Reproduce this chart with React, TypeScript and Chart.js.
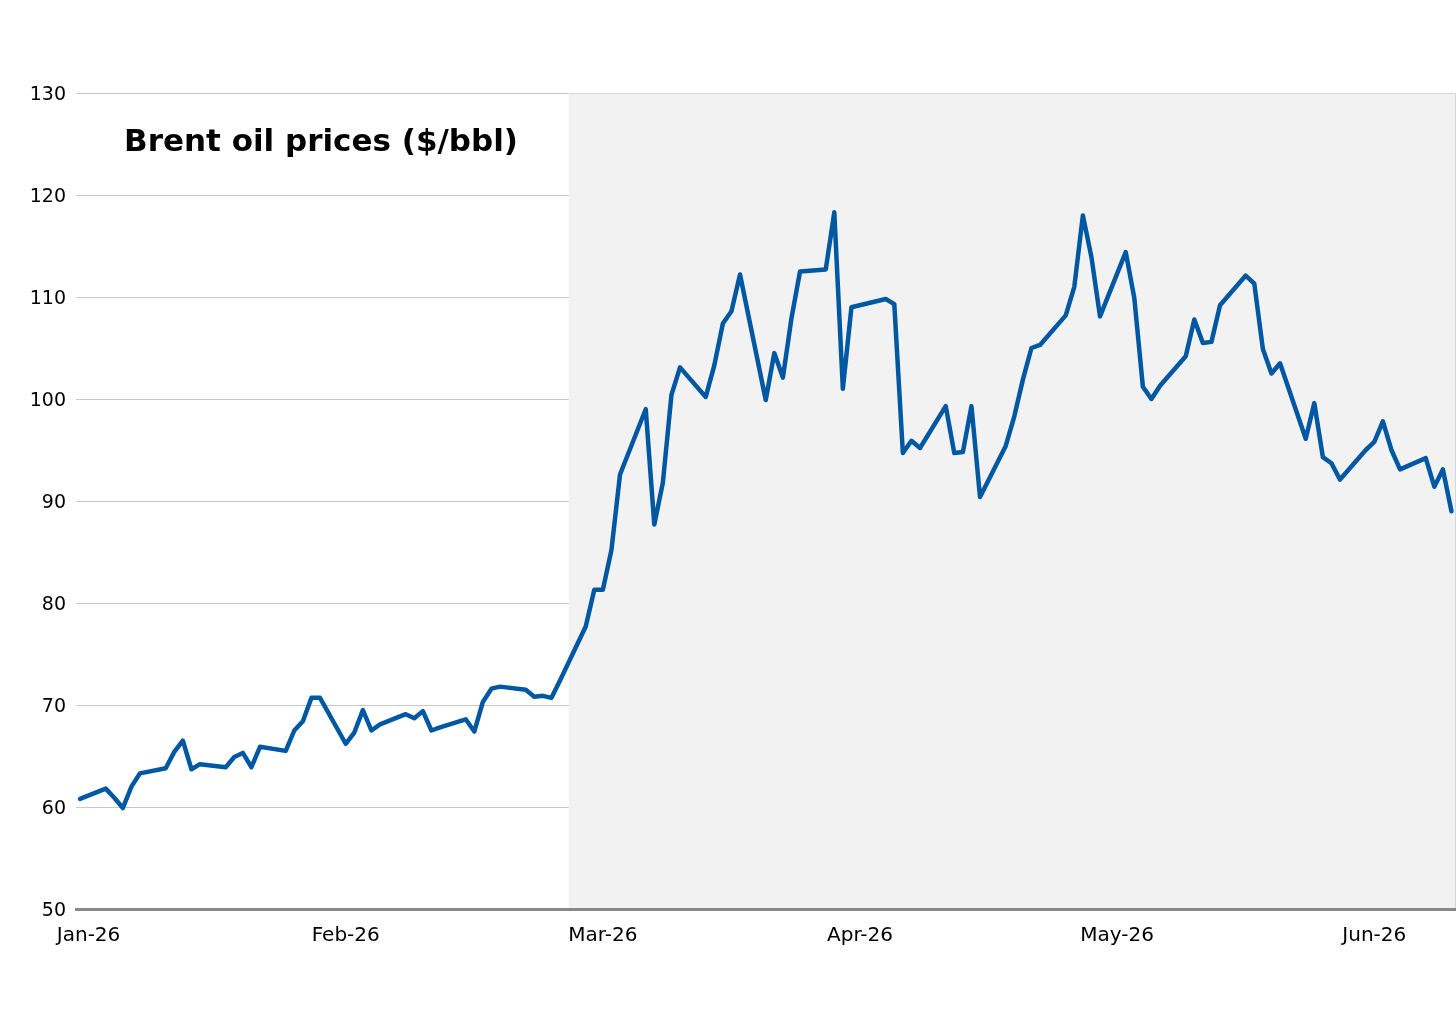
import React, { useEffect, useRef } from "react";
import { Chart, registerables } from "chart.js";

Chart.register(...registerables);

// ---- Data ----
const dates: string[] = [
  "2026-01-02", "2026-01-05", "2026-01-06", "2026-01-07", "2026-01-08", "2026-01-09",
  "2026-01-12", "2026-01-13", "2026-01-14", "2026-01-15", "2026-01-16",
  "2026-01-19", "2026-01-20", "2026-01-21", "2026-01-22", "2026-01-23",
  "2026-01-26", "2026-01-27", "2026-01-28", "2026-01-29", "2026-01-30",
  "2026-02-02", "2026-02-03", "2026-02-04", "2026-02-05", "2026-02-06",
  "2026-02-09", "2026-02-10", "2026-02-11", "2026-02-12", "2026-02-13",
  "2026-02-16", "2026-02-17", "2026-02-18", "2026-02-19", "2026-02-20",
  "2026-02-23", "2026-02-24", "2026-02-25", "2026-02-26", "2026-02-27",
  "2026-03-02", "2026-03-03", "2026-03-04", "2026-03-05", "2026-03-06",
  "2026-03-09", "2026-03-10", "2026-03-11", "2026-03-12", "2026-03-13",
  "2026-03-16", "2026-03-17", "2026-03-18", "2026-03-19", "2026-03-20",
  "2026-03-23", "2026-03-24", "2026-03-25", "2026-03-26", "2026-03-27",
  "2026-03-30", "2026-03-31", "2026-04-01", "2026-04-02",
  "2026-04-06", "2026-04-07", "2026-04-08", "2026-04-09", "2026-04-10",
  "2026-04-13", "2026-04-14", "2026-04-15", "2026-04-16", "2026-04-17",
  "2026-04-20", "2026-04-21", "2026-04-22", "2026-04-23", "2026-04-24",
  "2026-04-27", "2026-04-28", "2026-04-29", "2026-04-30", "2026-05-01",
  "2026-05-04", "2026-05-05", "2026-05-06", "2026-05-07", "2026-05-08",
  "2026-05-11", "2026-05-12", "2026-05-13", "2026-05-14", "2026-05-15",
  "2026-05-18", "2026-05-19", "2026-05-20", "2026-05-21", "2026-05-22",
  "2026-05-25", "2026-05-26", "2026-05-27", "2026-05-28", "2026-05-29",
  "2026-06-01", "2026-06-02", "2026-06-03", "2026-06-04", "2026-06-05",
  "2026-06-08", "2026-06-09", "2026-06-10", "2026-06-11",
];

const brent: number[] = [
  60.8, 61.8, 60.9, 59.9, 62.0, 63.3,
  63.8, 65.4, 66.5, 63.7, 64.2,
  63.9, 64.9, 65.3, 63.9, 65.9,
  65.5, 67.5, 68.4, 70.7, 70.7,
  66.2, 67.3, 69.5, 67.5, 68.1,
  69.1, 68.7, 69.4, 67.5, 67.8,
  68.6, 67.4, 70.3, 71.6, 71.8,
  71.5, 70.8, 70.9, 70.7, 72.4,
  77.7, 81.3, 81.3, 85.2, 92.6,
  99.0, 87.7, 91.8, 100.4, 103.1,
  100.2, 103.3, 107.4, 108.6, 112.2,
  99.9, 104.5, 102.1, 107.9, 112.5,
  112.7, 118.3, 101.0, 109.0,
  109.8, 109.3, 94.7, 95.9, 95.2,
  99.3, 94.7, 94.8, 99.3, 90.4,
  95.4, 98.3, 101.9, 105.0, 105.3,
  108.2, 111.0, 118.0, 113.9, 108.1,
  114.4, 109.9, 101.2, 100.0, 101.3,
  104.2, 107.8, 105.5, 105.6, 109.2,
  112.1, 111.3, 104.9, 102.5, 103.5,
  96.1, 99.6, 94.3, 93.7, 92.1,
  95.0, 95.8, 97.8, 95.0, 93.1,
  94.2, 91.4, 93.1, 89.0,
];

const tickDates: string[] = ["2026-01-03", "2026-02-02", "2026-03-04", "2026-04-03", "2026-05-03", "2026-06-02"];
const tickLabels: string[] = ["Jan-26", "Feb-26", "Mar-26", "Apr-26", "May-26", "Jun-26"];
const shadeStart = "2026-02-28";
const titleText = "Brent oil prices ($/bbl)";

const dayOf = (s: string): number =>
  (Date.UTC(+s.slice(0, 4), +s.slice(5, 7) - 1, +s.slice(8, 10)) - Date.UTC(2026, 0, 1)) / 86400000;

const FONT = "'DejaVu Sans', sans-serif";

const shadePlugin = {
  id: "shadeAndTitle",
  beforeDatasetsDraw(chart: any) {
    const { ctx, chartArea, scales } = chart;
    const x0 = scales.x.getPixelForValue(dayOf(shadeStart));
    ctx.save();
    ctx.fillStyle = "#f2f2f2";
    ctx.fillRect(x0, chartArea.top, chartArea.right - x0, chartArea.bottom - chartArea.top);
    ctx.strokeStyle = "#d6d6d6";
    ctx.lineWidth = 1;
    ctx.beginPath();
    ctx.moveTo(x0, chartArea.top + 0.5);
    ctx.lineTo(chartArea.right - 0.5, chartArea.top + 0.5);
    ctx.lineTo(chartArea.right - 0.5, chartArea.bottom);
    ctx.stroke();
    ctx.restore();
  },
  afterDraw(chart: any) {
    const { ctx, chartArea } = chart;
    ctx.save();
    ctx.font = `bold 31px ${FONT}`;
    ctx.fillStyle = "#000";
    ctx.textAlign = "center";
    ctx.textBaseline = "middle";
    ctx.fillText(titleText, chartArea.left + 245, chartArea.top + 50);
    ctx.restore();
  },
};

export default function App() {
  const ref = useRef<HTMLCanvasElement | null>(null);

  useEffect(() => {
    if (!ref.current) return;
    const points = dates.map((d, i) => ({ x: dayOf(d), y: brent[i] }));
    const chart = new Chart(ref.current, {
      type: "line",
      data: {
        datasets: [
          {
            label: "Brent",
            data: points,
            borderColor: "#0058a2",
            borderWidth: 4.5,
            pointRadius: 0,
            tension: 0,
            borderJoinStyle: "round",
            borderCapStyle: "round",
            fill: false,
          },
        ],
      },
      options: {
        responsive: false,
        animation: false,
        devicePixelRatio: 1,
        layout: { padding: { top: 93, left: 0, right: 0, bottom: 0 } },
        plugins: { legend: { display: false }, tooltip: { enabled: false }, title: { display: false } },
        scales: {
          x: {
            type: "linear",
            min: 0.533,
            max: 161.53,
            grid: { display: false, drawTicks: false },
            border: { display: true, color: "#888888", width: 3, z: 1 },
            ticks: {
              autoSkip: false,
              maxRotation: 0,
              minRotation: 0,
              padding: 15,
              color: "#000",
              font: { family: FONT, size: 20 },
              callback: (value: any) => {
                const idx = tickDates.findIndex((d) => Math.abs(dayOf(d) - value) < 0.01);
                return idx >= 0 ? tickLabels[idx] : "";
              },
            },
            afterBuildTicks: (scale: any) => {
              scale.ticks = tickDates.map((d) => ({ value: dayOf(d) }));
            },
            afterFit: (scale: any) => {
              scale.height = 107;
            },
          },
          y: {
            min: 50,
            max: 130,
            grid: { color: "#c8c8c8", lineWidth: 1, drawTicks: false },
            border: { display: false },
            ticks: {
              stepSize: 10,
              padding: 10,
              labelOffset: 2,
              color: "#000",
              font: { family: FONT, size: 19 },
            },
            afterFit: (scale: any) => {
              scale.width = 76;
            },
          },
        },
      },
      plugins: [shadePlugin],
    } as any);
    return () => chart.destroy();
  }, []);

  return (
    <div style={{ position: "absolute", left: 0, top: 0, width: 1456, height: 1016, background: "#fff" }}>
      <canvas ref={ref} width={1456} height={1016} style={{ display: "block", width: 1456, height: 1016 }} />
    </div>
  );
}
